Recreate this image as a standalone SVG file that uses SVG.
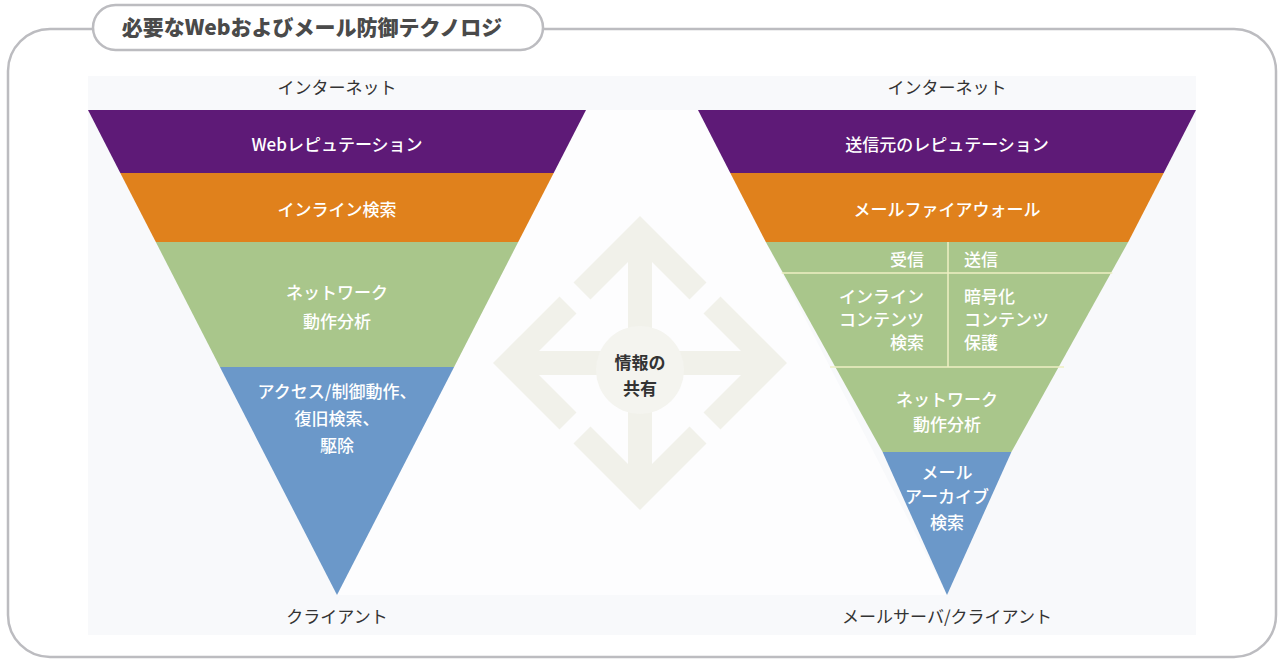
<svg xmlns="http://www.w3.org/2000/svg" width="1281" height="659" viewBox="0 0 1281 659">
<defs>
<style>
.frame{fill:none;stroke:#bcbcc0;stroke-width:2.5}
.lbl{font-family:"Noto Sans CJK JP","Noto Sans",sans-serif;font-size:17px;text-anchor:middle}
.dark{fill:#333333}
.wht{fill:#ffffff;font-weight:500}
.sep{stroke:#eef0c4;stroke-width:1.5;fill:none}
.arr{fill:none;stroke:#f1f1ea;stroke-width:24;stroke-linejoin:miter}
</style>
</defs>
<rect width="1281" height="659" fill="#ffffff"/>
<g id="frame">
<path class="frame" d="M93,29 H50 A42,42 0 0 0 8,71 V615 A42,42 0 0 0 50,657 H1234 A42,42 0 0 0 1276,615 V71 A42,42 0 0 0 1234,29 H543"/>
<rect x="93" y="5" width="450" height="45" rx="22.5" fill="#ffffff" stroke="#bcbcc0" stroke-width="2.5"/>
<text x="312" y="35" font-family="'Noto Sans CJK JP','Noto Sans',sans-serif" font-size="21" font-weight="900" fill="#4a4a4a" text-anchor="middle">必要なWebおよびメール防御テクノロジ</text>
</g>
<rect x="88" y="76" width="1108" height="559" fill="#f8f9fb"/>
<polygon points="586,110 698,110 947,595 337,595" fill="#fdfdfe"/>
<g id="sharing-arrows">
<path class="arr" d="M640,250 V476 M515,363 H765"/>
<path class="arr" d="M582,291 L640,233 L698,291"/>
<path class="arr" d="M582,435 L640,493 L698,435"/>
<path class="arr" d="M568,305 L510,363 L568,421"/>
<path class="arr" d="M712,305 L770,363 L712,421"/>
<circle cx="640" cy="370" r="44" fill="#f4f4ef"/>
</g>
<g id="sharing-label">
<text class="lbl dark" x="640" y="369" font-size="19" font-weight="bold">情報の</text>
<text class="lbl dark" x="640" y="395" font-size="19" font-weight="bold">共有</text>
</g>
<g id="web-stack">
<text class="lbl dark" x="337" y="94">インターネット</text>
<g id="web-reputation">
<polygon points="88,110 586,110 553.7,173 120.3,173" fill="#5e1a77"/>
<text class="lbl wht" x="337" y="151">Webレピュテーション</text>
</g>
<g id="web-inline">
<polygon points="120.3,173 553.7,173 518.2,242 155.8,242" fill="#e0811c"/>
<text class="lbl wht" x="337" y="216">インライン検索</text>
</g>
<g id="web-network">
<polygon points="155.8,242 518.2,242 454.1,367 219.9,367" fill="#a9c68b"/>
<text class="lbl wht" x="337" y="299">ネットワーク</text>
<text class="lbl wht" x="337" y="328">動作分析</text>
</g>
<g id="web-access">
<polygon points="219.9,367 454.1,367 337,595" fill="#6b98c9"/>
<text class="lbl wht" x="337" y="398">アクセス/制御動作、</text>
<text class="lbl wht" x="337" y="425">復旧検索、</text>
<text class="lbl wht" x="337" y="452">駆除</text>
</g>
<text class="lbl dark" x="337" y="623">クライアント</text>
</g>
<g id="mail-stack">
<text class="lbl dark" x="947" y="94">インターネット</text>
<g id="mail-reputation">
<polygon points="698,110 1196,110 1163.7,173 730.3,173" fill="#5e1a77"/>
<text class="lbl wht" x="947" y="151">送信元のレピュテーション</text>
</g>
<g id="mail-firewall">
<polygon points="730.3,173 1163.7,173 1128.2,242 765.8,242" fill="#e0811c"/>
<text class="lbl wht" x="947" y="216">メールファイアウォール</text>
</g>
<g id="mail-content">
<polygon points="765.8,242 1128.2,242 1011.4,452 882.6,452" fill="#a9c68b"/>
<path class="sep" d="M781.7,273 H1112.3 M830,367 H1064 M948,242 V367"/>
<text class="lbl wht" x="924" y="266" style="text-anchor:end">受信</text>
<text class="lbl wht" x="964" y="266" style="text-anchor:start">送信</text>
<text class="lbl wht" x="924" y="303" style="text-anchor:end">インライン</text>
<text class="lbl wht" x="924" y="326" style="text-anchor:end">コンテンツ</text>
<text class="lbl wht" x="924" y="349" style="text-anchor:end">検索</text>
<text class="lbl wht" x="964" y="303" style="text-anchor:start">暗号化</text>
<text class="lbl wht" x="964" y="326" style="text-anchor:start">コンテンツ</text>
<text class="lbl wht" x="964" y="349" style="text-anchor:start">保護</text>
<text class="lbl wht" x="947" y="406">ネットワーク</text>
<text class="lbl wht" x="947" y="431">動作分析</text>
</g>
<g id="mail-archive">
<polygon points="882.6,452 1011.4,452 947,595" fill="#6b98c9"/>
<text class="lbl wht" x="947" y="479">メール</text>
<text class="lbl wht" x="947" y="503">アーカイブ</text>
<text class="lbl wht" x="947" y="529">検索</text>
</g>
<text class="lbl dark" x="947" y="623">メールサーバ/クライアント</text>
</g>
<g id="connectors"></g>
</svg>
